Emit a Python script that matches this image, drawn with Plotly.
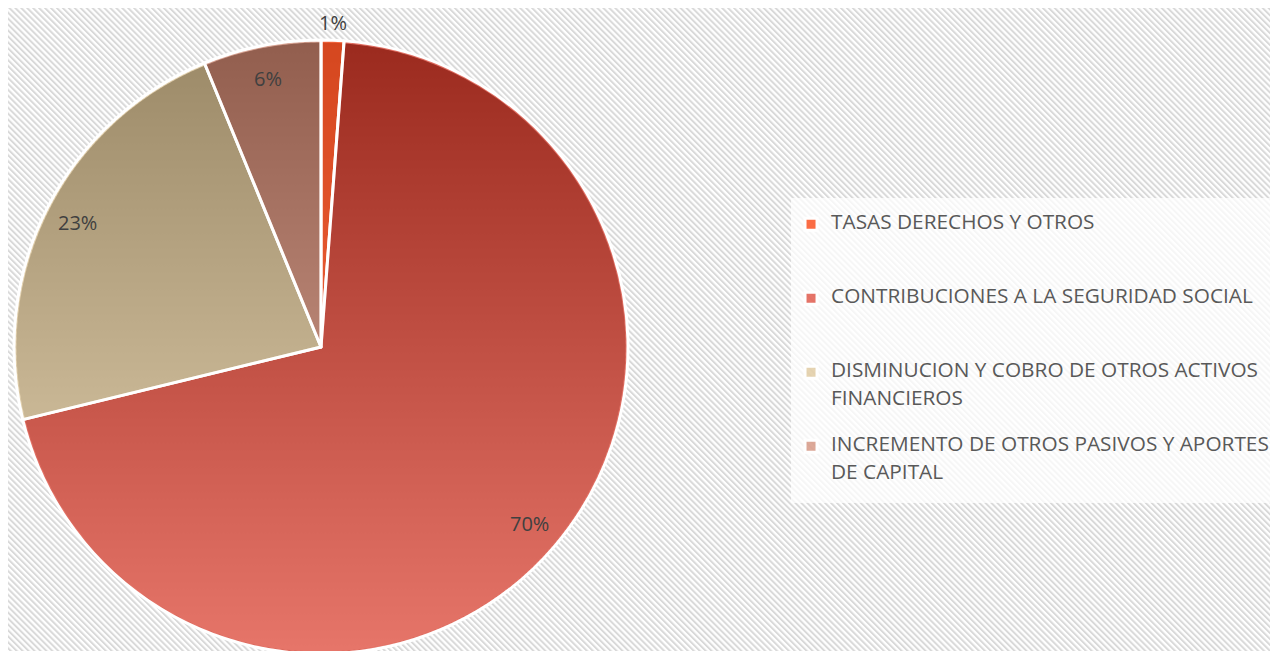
import base64
import math
import plotly.graph_objects as go

# Datos del gráfico
categorias = [
    "TASAS DERECHOS Y OTROS",
    "CONTRIBUCIONES A LA SEGURIDAD SOCIAL",
    "DISMINUCION Y COBRO DE OTROS ACTIVOS<br>FINANCIEROS",
    "INCREMENTO DE OTROS PASIVOS Y APORTES<br>DE CAPITAL",
]
valores = [1.2, 70.0, 22.6, 6.2]
colores = [
    "rgba(250, 84, 36, 0.85)",
    "rgba(220, 58, 41, 0.7)",
    "rgba(220, 194, 146, 0.7)",
    "rgba(206, 133, 109, 0.7)",
]

W, H = 1278, 651
DESPL = 8  # la página tiene un margen de 8 px alrededor del gráfico
fuente = "Open Sans, Lato, Arial, sans-serif"


def svg_uri(svg):
    return "data:image/svg+xml;base64," + base64.b64encode(svg.encode()).decode()


# Leyenda: cada entrada ocupa 5 "medias líneas" para imitar el espaciado del original;
# las líneas de texto van en una línea sí y otra no, con letra más grande.
def etiqueta_leyenda(txt, n=5):
    filas = []
    for linea in txt.split("<br>"):
        filas += [f"<span style='font-size:20.8px'>{linea}</span>", "&nbsp;"]
    filas += ["&nbsp;"] * (n - len(filas))
    return "<br>".join(filas)


etiquetas = [etiqueta_leyenda(c) for c in categorias[:-1]]
etiquetas.append(etiqueta_leyenda(categorias[-1], n=4))

# Fondo rayado (diagonales finas)
fondo = (
    f"<svg xmlns='http://www.w3.org/2000/svg' width='{W}' height='{H}'>"
    "<defs><pattern id='p' width='4.2' height='10' patternUnits='userSpaceOnUse' "
    "patternTransform='rotate(-45)'><rect width='2' height='10' fill='#d9d9d9'/></pattern></defs>"
    "<rect width='100%' height='100%' fill='white'/>"
    "<rect width='100%' height='100%' fill='url(#p)'/></svg>"
)

# Degradado vertical bajo la torta (oscuro arriba, claro abajo)
degradado = (
    "<svg xmlns='http://www.w3.org/2000/svg' width='100' height='100' viewBox='0 0 100 100'>"
    "<defs><linearGradient id='g' x1='0' y1='0' x2='0' y2='1'>"
    "<stop offset='0' stop-color='rgb(5,5,5)'/><stop offset='1' stop-color='rgb(255,255,255)'/>"
    "</linearGradient></defs><circle cx='50' cy='50' r='49.6' fill='url(#g)'/></svg>"
)

# Geometría de la torta (px dentro de la figura)
r_px = 307
top_px = 40 - DESPL
cx_px = 321 - DESPL
cy_px = top_px + r_px
half_w = 0.2445
dom_x = [cx_px / W - half_w, cx_px / W + half_w]
dom_y = [(H - top_px - 2 * r_px) / H, (H - top_px) / H]

fig = go.Figure()

fig.add_trace(go.Pie(
    labels=etiquetas,
    values=valores,
    sort=False,
    direction="clockwise",
    rotation=0,
    marker=dict(colors=colores, line=dict(color="white", width=3)),
    textinfo="none",
    hoverinfo="percent",
    domain=dict(x=dom_x, y=dom_y),
))

# Etiquetas de porcentaje cerca del borde de cada porción
total = sum(valores)
acum = 0
anotaciones = []
for v in valores:
    frac = v / total
    ang = math.radians((acum + frac / 2) * 360)
    acum += frac
    k = 1.058 if frac < 0.03 else 0.89
    px = cx_px + k * r_px * math.sin(ang)
    py = cy_px - k * r_px * math.cos(ang)
    anotaciones.append(dict(
        x=px / W, y=1 - py / H, xref="paper", yref="paper",
        xanchor="center", yanchor="middle",
        text=f"{round(frac * 100)}%", showarrow=False,
        font=dict(family=fuente, size=20, color="#404040"),
    ))

fig.update_layout(
    width=W,
    height=H,
    margin=dict(l=0, r=0, t=0, b=0, autoexpand=False),
    paper_bgcolor="white",
    font=dict(family=fuente, color="#595959"),
    annotations=anotaciones,
    images=[
        dict(source=svg_uri(fondo), xref="paper", yref="paper", x=0, y=1,
             sizex=1, sizey=1, xanchor="left", yanchor="top",
             sizing="stretch", layer="below"),
        dict(source=svg_uri(degradado), xref="paper", yref="paper",
             x=(cx_px - r_px) / W, y=1 - top_px / H,
             sizex=2 * r_px / W, sizey=2 * r_px / H, xanchor="left", yanchor="top",
             sizing="stretch", layer="below"),
    ],
    legend=dict(
        x=0.6127, y=0.7085, xanchor="left", yanchor="top",
        bgcolor="rgba(255,255,255,0.75)",
        font=dict(family=fuente, size=71 / 6.5, color="#595959"),
        title=dict(text="&nbsp;", font=dict(size=10)),
        valign="top",
        itemclick=False,
    ),
    showlegend=True,
)

fig.write_html("out.html")
